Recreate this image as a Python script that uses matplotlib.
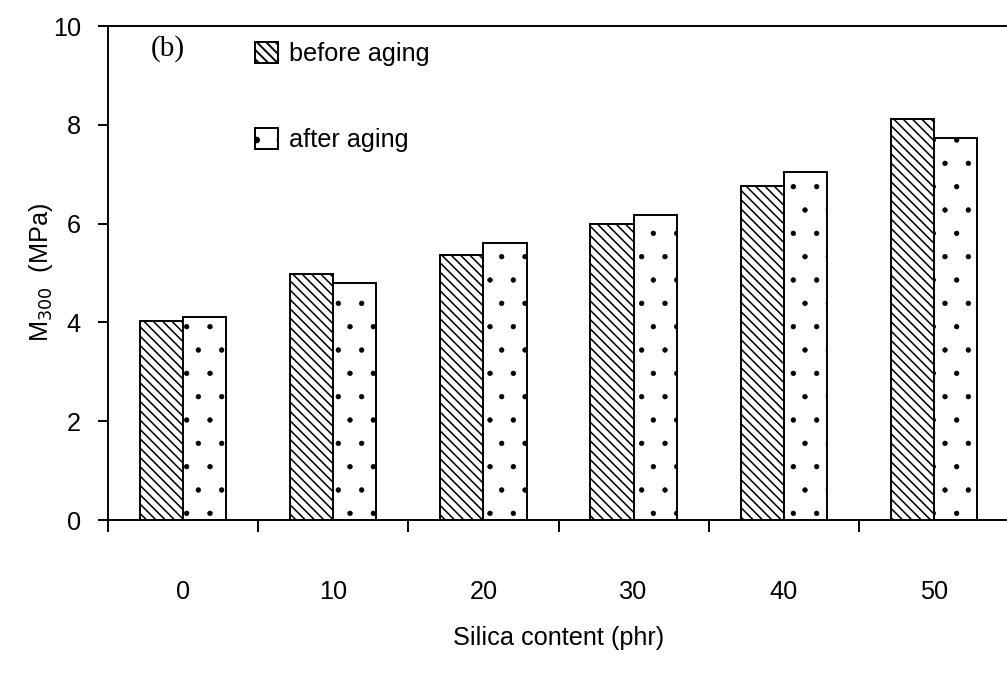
import numpy as np
import matplotlib
matplotlib.use("Agg")
import matplotlib.pyplot as plt
from matplotlib.patches import Patch

# data
silica = ["0", "10", "20", "30", "40", "50"]
before_aging = [4.02, 4.98, 5.36, 6.00, 6.77, 8.12]
after_aging = [4.11, 4.79, 5.60, 6.18, 7.05, 7.73]

plt.rcParams['font.family'] = ['Liberation Sans', 'DejaVu Sans']

dpi = 140
fig = plt.figure(figsize=(1007 / dpi, 673 / dpi), dpi=dpi)
ax = fig.add_axes([108 / 1007, 1 - 520 / 673, 901 / 1007, 494 / 673])

diag = '\\\\\\\\\\'
dots = '.'

x = np.arange(len(silica))
w = 0.287
with plt.rc_context({'hatch.linewidth': 0.8}):
    ax.bar(x - w / 2, before_aging, w, color='white', edgecolor='black',
           hatch=diag, linewidth=1.0, label='before aging')
    h1 = Patch(facecolor='white', edgecolor='black', hatch=diag, label='before aging')
with plt.rc_context({'hatch.linewidth': 0.3}):
    ax.bar(x + w / 2, after_aging, w, color='white', edgecolor='black',
           hatch=dots, linewidth=1.0, label='after aging')
    h2 = Patch(facecolor='white', edgecolor='black', hatch=dots, label='after aging')

ax.set_xlim(-0.5, 5.5)
ax.set_ylim(0, 10)
ax.set_yticks([0, 2, 4, 6, 8, 10])
ax.tick_params(axis='y', direction='out', length=5, width=1.0,
               labelsize=13, pad=9)

# x ticks at the category borders, labels at the centres
ax.set_xticks(np.arange(-0.5, 6.0, 1.0))
ax.set_xticklabels([])
ax.tick_params(axis='x', which='major', direction='out', length=6, width=1.0)
ax.set_xticks(x, minor=True)
ax.set_xticklabels(silica, minor=True)
ax.tick_params(axis='x', which='minor', length=0, labelsize=13, pad=31)

for s in ['left', 'top', 'bottom']:
    ax.spines[s].set_linewidth(1.0)
ax.spines['right'].set_visible(False)

ax.set_xlabel('Silica content (phr)', fontsize=13, labelpad=11)
ax.set_ylabel('M$_{300}$  (MPa)', fontsize=13, labelpad=-1)

ax.text(0.047, 0.955, '(b)', transform=ax.transAxes, fontsize=15,
        family=['Liberation Serif'], va='center', ha='left')

ax.legend(handles=[h1, h2], loc='upper left', bbox_to_anchor=(0.163, 0.968),
          frameon=False, fontsize=13, handlelength=0.9, handleheight=0.9,
          handletextpad=0.45, labelspacing=2.45, borderpad=0, borderaxespad=0)

fig.savefig('out.png', dpi=dpi)
